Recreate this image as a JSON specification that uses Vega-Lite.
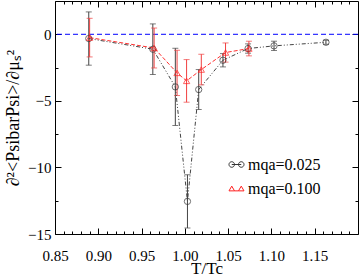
{
  "$schema": "https://vega.github.io/schema/vega-lite/v6.json",
  "width": 303,
  "height": 233,
  "autosize": "none",
  "padding": {"left": 55, "top": 1, "right": 2, "bottom": 46},
  "background": "white",
  "config": {
    "view": {"stroke": "black", "strokeWidth": 1},
    "axis": {"domain": false, "grid": false, "tickColor": "black", "labelColor": "black", "titleColor": "black", "labelFontSize": 15, "titleFontSize": 19, "titleFontWeight": "normal", "labelFlush": false, "labelOverlap": false}
  },
  "datasets": {
    "pts": [
      {"s": "0.025", "t": 0.889, "v": -0.32, "e": 2.0},
      {"s": "0.025", "t": 0.963, "v": -1.12, "e": 1.9},
      {"s": "0.025", "t": 0.989, "v": -3.95, "e": 2.9},
      {"s": "0.025", "t": 1.003, "v": -12.55, "e": 2.0},
      {"s": "0.025", "t": 1.016, "v": -4.15, "e": 1.5},
      {"s": "0.025", "t": 1.044, "v": -1.95, "e": 0.5},
      {"s": "0.025", "t": 1.073, "v": -1.07, "e": 0.35},
      {"s": "0.025", "t": 1.103, "v": -0.87, "e": 0.35},
      {"s": "0.025", "t": 1.163, "v": -0.6, "e": 0.15},
      {"s": "0.100", "t": 0.890, "v": -0.25, "e": 1.45},
      {"s": "0.100", "t": 0.9645, "v": -1.03, "e": 1.5},
      {"s": "0.100", "t": 0.991, "v": -2.9, "e": 1.7},
      {"s": "0.100", "t": 1.002, "v": -3.5, "e": 1.6},
      {"s": "0.100", "t": 1.019, "v": -2.65, "e": 1.15},
      {"s": "0.100", "t": 1.047, "v": -1.37, "e": 0.72},
      {"s": "0.100", "t": 1.074, "v": -1.07, "e": 0.55}
    ]
  },
  "data": {"name": "pts"},
  "layer": [
    {
      "data": {"values": [{"ref": 0}]},
      "mark": {"type": "rule", "color": "#0000ff", "strokeDash": [5, 3], "strokeWidth": 1},
      "encoding": {"y": {"field": "ref", "type": "quantitative", "scale": {"domain": [-15, 2.5], "nice": false}, "axis": null}}
    },
    {
      "transform": [{"filter": "datum.s === '0.025'"}],
      "mark": {"type": "errorbar", "ticks": {"size": 6}, "color": "#444444", "thickness": 1},
      "encoding": {
        "x": {"field": "t", "type": "quantitative", "axis": null},
        "y": {"field": "v", "type": "quantitative", "axis": null},
        "yError": {"field": "e"}
      }
    },
    {
      "transform": [{"filter": "datum.s === '0.100'"}],
      "mark": {"type": "errorbar", "ticks": {"size": 6}, "color": "#f04040", "thickness": 1},
      "encoding": {
        "x": {"field": "t", "type": "quantitative", "axis": null},
        "y": {"field": "v", "type": "quantitative", "axis": null},
        "yError": {"field": "e"}
      }
    },
    {
      "transform": [{"filter": "datum.s === '0.025'"}],
      "mark": {"type": "line", "color": "#444444", "strokeDash": [4, 2, 1, 2, 1, 2], "strokeWidth": 1},
      "encoding": {
        "x": {"field": "t", "type": "quantitative", "scale": {"domain": [0.85, 1.2], "nice": false, "zero": false},
          "axis": {"orient": "bottom", "values": [0.85, 0.9, 0.95, 1.0, 1.05, 1.1, 1.15], "format": ".2f", "tickSize": -6, "labelPadding": 20, "labelFont": "Liberation Serif", "titleFont": "Liberation Serif", "title": "T/Tc", "titleFontSize": 17, "titlePadding": -3}},
        "y": {"field": "v", "type": "quantitative", "scale": {"domain": [-15, 2.5], "nice": false, "zero": false},
          "axis": {"orient": "left", "values": [-15, -10, -5, 0], "tickSize": -6, "labelPadding": 10, "labelFont": "Liberation Serif", "titleFont": "Liberation Serif", "titleFontSize": 18, "title": "∂²<PsibarPsi>/∂μₛ²", "titlePadding": 5}}
      }
    },
    {
      "transform": [{"filter": "datum.s === '0.100'"}],
      "mark": {"type": "line", "color": "#ff3030", "strokeDash": [4, 2], "strokeWidth": 1},
      "encoding": {
        "x": {"field": "t", "type": "quantitative", "axis": {"orient": "bottom", "values": [0.86, 0.87, 0.88, 0.89, 0.91, 0.92, 0.93, 0.94, 0.96, 0.97, 0.98, 0.99, 1.01, 1.02, 1.03, 1.04, 1.06, 1.07, 1.08, 1.09, 1.11, 1.12, 1.13, 1.14, 1.16, 1.17, 1.18, 1.19], "tickSize": -3, "labels": false, "title": null}},
        "y": {"field": "v", "type": "quantitative", "axis": {"orient": "left", "values": [-12.5, -7.5, -2.5], "tickSize": -3, "labels": false, "title": null}}
      }
    },
    {
      "transform": [{"filter": "datum.s === '0.025'"}],
      "mark": {"type": "point", "filled": false, "size": 40, "strokeWidth": 1, "shape": "circle", "color": "#333333"},
      "encoding": {
        "x": {"field": "t", "type": "quantitative", "axis": {"orient": "top", "values": [0.85, 0.9, 0.95, 1.0, 1.05, 1.1, 1.15], "tickSize": -6, "labels": false, "title": null}},
        "y": {"field": "v", "type": "quantitative", "axis": {"orient": "right", "values": [-15, -10, -5, 0], "tickSize": -6, "labels": false, "title": null}}
      }
    },
    {
      "transform": [{"filter": "datum.s === '0.100'"}],
      "mark": {"type": "point", "filled": false, "size": 40, "strokeWidth": 1, "shape": "triangle-up", "color": "#ff2020"},
      "encoding": {
        "x": {"field": "t", "type": "quantitative", "axis": {"orient": "top", "values": [0.86, 0.87, 0.88, 0.89, 0.91, 0.92, 0.93, 0.94, 0.96, 0.97, 0.98, 0.99, 1.01, 1.02, 1.03, 1.04, 1.06, 1.07, 1.08, 1.09, 1.11, 1.12, 1.13, 1.14, 1.16, 1.17, 1.18, 1.19], "tickSize": -3, "labels": false, "title": null}},
        "y": {"field": "v", "type": "quantitative", "axis": {"orient": "right", "values": [-12.5, -7.5, -2.5], "tickSize": -3, "labels": false, "title": null}}
      }
    },
    {
      "mark": {"type": "point", "filled": false, "opacity": 0, "strokeWidth": 1},
      "encoding": {
        "x": {"field": "t", "type": "quantitative", "axis": null},
        "y": {"field": "v", "type": "quantitative", "axis": null},
        "color": {"field": "s", "type": "nominal", "scale": {"domain": ["0.025", "0.100"], "range": ["#333333", "#ff2020"]},
          "legend": {"orient": "none", "legendX": 173, "legendY": 155, "title": null, "padding": 0, "symbolSize": 250, "symbolStrokeWidth": 1, "labelFontSize": 16, "labelFont": "Liberation Serif", "labelColor": "black", "labelOffset": 3, "rowPadding": 7, "labelExpr": "'mqa=' + datum.label"}},
        "shape": {"field": "s", "type": "nominal", "scale": {"domain": ["0.025", "0.100"], "range": ["M-0.25,0A0.35,0.35,0,1,1,-0.95,0A0.35,0.35,0,1,1,-0.25,0ZM0.95,0A0.35,0.35,0,1,1,0.25,0A0.35,0.35,0,1,1,0.95,0ZM-0.6,0L0.6,0", "M-0.95,0.3L-0.25,0.3L-0.6,-0.3ZM0.25,0.3L0.95,0.3L0.6,-0.3ZM-0.25,0.3L0.25,0.3"]},
          "legend": {"orient": "none", "legendX": 173, "legendY": 155, "title": null, "padding": 0, "symbolSize": 250, "symbolStrokeWidth": 1, "labelFontSize": 16, "labelFont": "Liberation Serif", "labelColor": "black", "labelOffset": 3, "rowPadding": 7, "labelExpr": "'mqa=' + datum.label"}}
      }
    }
  ],
  "resolve": {"axis": {"x": "independent", "y": "independent"}}
}
